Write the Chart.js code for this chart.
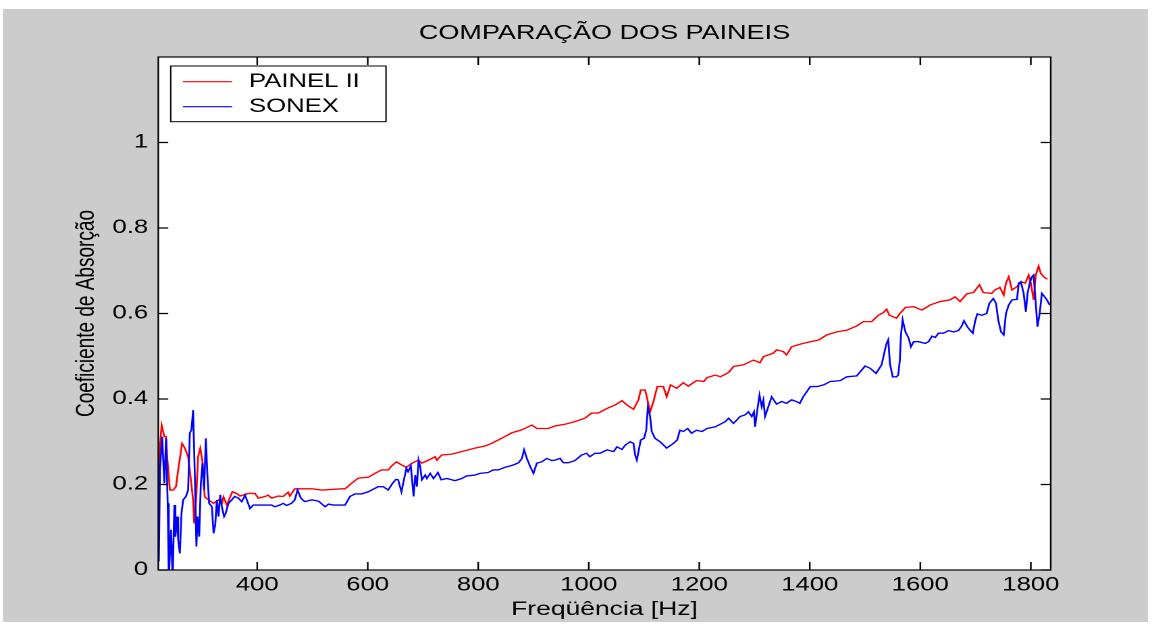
<!DOCTYPE html>
<html>
<head>
<meta charset="utf-8">
<script src="https://cdn.jsdelivr.net/npm/chart.js@4.4.1/dist/chart.umd.min.js"></script>
<style>
  html, body { margin: 0; padding: 0; background: #ffffff; overflow: hidden; }
  /* the figure is drawn on a narrower canvas and widened horizontally */
  #wrap { width: 853px; height: 627px; transform: scaleX(1.35053); transform-origin: 0 0; }
</style>
</head>
<body>
<div id="wrap"><canvas id="c" width="853" height="627"></canvas></div>
<script>
// Absorption coefficient measured for each panel, by frequency (Hz)
const painelFreq = [
  221,227,232,235,237,242,248,253,257,264,269,275,280,284,286,290,293,297,301,305,
  312,321,330,336,339,345,355,363,369,384,396,402,414,420,426,438,447,456,459,468,
  499,517,553,559,571,583,601,613,625,637,643,652,661,670,680,692,698,710,722,725,
  734,752,770,794,812,824,836,848,861,879,897,906,927,939,957,975,993,1005,1017,
  1033,1048,1060,1069,1081,1090,1094,1102,1105,1111,1117,1124,1135,1141,1148,1159,1171,1180,1195,1208,
  1214,1229,1238,1253,1262,1280,1298,1310,1316,1334,1340,1352,1358,1367,1382,1398,1416,1431,1449,1467,
  1485,1497,1512,1524,1533,1539,1544,1557,1563,1573,1588,1603,1618,1636,1654,1663,1672,1684,1696,1707,
  1714,1729,1735,1744,1751,1755,1760,1766,1775,1782,1790,1796,1800,1805,1809,1814,1818,1823,1830
];
const painelCoef = [
  0.234,0.339,0.312,0.312,0.265,0.187,0.187,0.195,0.234,0.296,0.285,0.265,0.211,0.164,0.109,0.179,0.265,0.285,0.253,0.171,
  0.164,0.156,0.164,0.156,0.171,0.152,0.183,0.179,0.173,0.179,0.179,0.168,0.172,0.175,0.168,0.173,0.172,0.182,0.173,0.190,
  0.190,0.187,0.190,0.190,0.203,0.215,0.217,0.226,0.234,0.234,0.243,0.253,0.246,0.240,0.250,0.257,0.250,0.257,0.265,0.257,
  0.269,0.271,0.277,0.285,0.290,0.296,0.304,0.312,0.321,0.328,0.339,0.331,0.331,0.337,0.341,0.347,0.355,0.367,0.367,
  0.378,0.386,0.396,0.386,0.376,0.398,0.421,0.421,0.405,0.370,0.394,0.429,0.429,0.405,0.433,0.425,0.438,0.430,0.443,0.441,
  0.450,0.456,0.452,0.462,0.476,0.480,0.491,0.485,0.499,0.507,0.515,0.511,0.503,0.522,0.528,0.533,0.538,0.550,0.557,0.561,
  0.571,0.581,0.581,0.596,0.602,0.610,0.596,0.589,0.600,0.614,0.616,0.608,0.620,0.628,0.632,0.639,0.628,0.646,0.649,0.667,
  0.649,0.647,0.655,0.661,0.643,0.671,0.686,0.655,0.663,0.674,0.671,0.690,0.671,0.632,0.690,0.711,0.694,0.686,0.680
];
const sonexFreq = [
  221,222,224,228,232,235,238,240,244,247,250,252,255,257,260,263,266,271,275,278,
  281,284,287,290,292,295,298,301,304,307,310,313,318,321,324,327,330,333,336,340,
  343,348,354,359,366,372,378,387,393,408,426,432,441,447,453,462,468,473,479,486,
  499,511,523,529,538,559,568,577,589,601,610,619,628,637,645,651,655,661,666,670,
  673,678,683,686,689,692,695,698,704,707,713,719,727,733,743,758,770,779,794,803,
  818,827,836,848,854,864,873,879,883,888,894,900,906,915,924,933,939,948,954,963,
  975,987,996,1002,1011,
  1020,1033,1045,1051,1060,1066,1075,1081,1084,1087,1090,1094,1100,1104,1107,1111,1114,1120,1129,1141,
  1153,1160,1165,1171,1179,1186,1195,1205,1214,1229,1247,1253,1262,1274,1283,1289,1295,1299,1301,1305,
  1309,1313,1316,1319,1325,1331,1340,1349,1358,1367,1376,1382,1388,1401,1413,1425,1437,1455,1467,1485,
  1500,1509,1520,1530,1536,1539,1542,1545,1550,1557,1560,1563,1565,1568,1573,1579,1583,1588,1597,1609,
  1615,1621,1627,1633,1642,1651,1660,1669,1675,1679,1685,1690,1695,1699,1703,1711,1720,1725,1732,1737,
  1741,1746,1751,1755,1760,1766,1775,1778,1782,1787,1791,1794,1798,1802,1805,1808,1812,1816,1820,1825,
  1829,1834
];
const sonexCoef = [
  0.031,0.020,0.234,0.312,0.203,0.308,0.156,-0.020,0.094,-0.020,0.152,0.078,0.125,0.070,0.039,0.133,0.164,0.172,0.187,0.320,
  0.328,0.374,0.226,0.055,0.125,0.078,0.203,0.250,0.187,0.308,0.218,0.156,0.148,0.086,0.105,0.164,0.125,0.176,0.148,0.125,
  0.133,0.156,0.164,0.172,0.168,0.160,0.175,0.144,0.152,0.152,0.152,0.148,0.152,0.156,0.151,0.156,0.164,0.187,0.168,0.160,
  0.164,0.161,0.148,0.154,0.152,0.152,0.172,0.178,0.178,0.183,0.189,0.195,0.195,0.187,0.203,0.212,0.211,0.183,0.214,0.238,
  0.230,0.243,0.172,0.222,0.195,0.257,0.242,0.211,0.222,0.214,0.226,0.214,0.228,0.211,0.214,0.209,0.214,0.220,0.222,0.226,
  0.228,0.234,0.234,0.240,0.242,0.246,0.251,0.261,0.281,0.261,0.242,0.226,0.250,0.253,0.261,0.256,0.257,0.261,0.251,0.251,
  0.256,0.269,0.273,0.265,0.273,
  0.273,0.281,0.277,0.288,0.282,0.292,0.300,0.296,0.269,0.257,0.277,0.304,0.308,0.327,0.382,0.359,0.324,0.308,0.300,0.285,
  0.296,0.304,0.327,0.324,0.331,0.320,0.327,0.324,0.331,0.335,0.347,0.355,0.343,0.359,0.363,0.370,0.359,0.370,0.335,0.374,
  0.409,0.382,0.398,0.359,0.382,0.405,0.388,0.394,0.390,0.398,0.394,0.390,0.405,0.429,0.429,0.433,0.441,0.443,0.452,0.454,
  0.477,0.472,0.460,0.480,0.515,0.530,0.539,0.483,0.452,0.452,0.456,0.491,0.550,0.585,0.557,0.542,0.522,0.534,0.534,0.530,
  0.534,0.547,0.544,0.554,0.554,0.560,0.557,0.560,0.571,0.583,0.569,0.561,0.554,0.581,0.599,0.596,0.600,0.624,0.635,0.624,
  0.585,0.557,0.550,0.600,0.620,0.632,0.633,0.671,0.674,0.647,0.604,0.647,0.671,0.686,0.690,0.639,0.569,0.600,0.647,0.639,
  0.632,0.620
];

const seriesLabels = ['PAINEL II', 'SONEX'];
const xTickValues = [400, 600, 800, 1000, 1200, 1400, 1600, 1800];
const yTickValues = [0, 0.2, 0.4, 0.6, 0.8, 1];
const chartTitle = 'COMPARAÇÃO DOS PAINEIS';
const xTitle = 'Freqüência [Hz]';
const yTitle = 'Coeficiente de Absorção';

const FONT = "'Liberation Sans', Arial, Helvetica, sans-serif";
const INK = '#000000';
const FIG_GRAY = '#cccccc';
const SERIES_COLORS = ['#ff0000', '#0000ff'];

const toPoints = (xs, ys) => xs.map((x, i) => ({ x: x, y: ys[i] }));

// grey figure background with a white axes area
const figureBackground = {
  id: 'figureBackground',
  beforeDraw(chart) {
    const { ctx, chartArea: a } = chart;
    ctx.save();
    ctx.fillStyle = '#ffffff';
    ctx.fillRect(0, 0, chart.width, chart.height);
    ctx.fillStyle = FIG_GRAY;
    ctx.fillRect(2.2, 9, 847.8, 613);
    ctx.fillStyle = '#ffffff';
    ctx.fillRect(a.left, a.top, a.right - a.left, a.bottom - a.top);
    ctx.restore();
  }
};

// axes box with inward tick marks on all four sides
const axesBox = {
  id: 'axesBox',
  afterDatasetsDraw(chart) {
    const { ctx, chartArea: a, scales } = chart;
    ctx.save();
    ctx.strokeStyle = INK;
    ctx.lineWidth = 1.2;
    ctx.strokeRect(a.left, a.top, a.right - a.left, a.bottom - a.top);
    ctx.beginPath();
    scales.x.ticks.forEach(t => {
      const px = scales.x.getPixelForValue(t.value);
      ctx.moveTo(px, a.bottom); ctx.lineTo(px, a.bottom - 8);
      ctx.moveTo(px, a.top); ctx.lineTo(px, a.top + 8);
    });
    scales.y.ticks.forEach(t => {
      const py = scales.y.getPixelForValue(t.value);
      ctx.moveTo(a.left, py); ctx.lineTo(a.left + 7.4, py);
      ctx.moveTo(a.right, py); ctx.lineTo(a.right - 7.4, py);
    });
    ctx.stroke();
    ctx.restore();
  }
};

// boxed legend in the upper left corner of the axes
const boxedLegend = {
  id: 'boxedLegend',
  afterDraw(chart) {
    const { ctx } = chart;
    const x0 = 126.4, y0 = 66, w = 159.4, h = 55.7;
    ctx.save();
    ctx.fillStyle = '#ffffff';
    ctx.fillRect(x0, y0, w, h);
    ctx.strokeStyle = INK;
    ctx.lineWidth = 1;
    ctx.strokeRect(x0, y0, w, h);
    ctx.font = '19px ' + FONT;
    ctx.textBaseline = 'middle';
    ctx.textAlign = 'left';
    chart.data.datasets.forEach((ds, i) => {
      const y = 81.7 + i * 25;
      ctx.strokeStyle = ds.borderColor;
      ctx.lineWidth = 1.2;
      ctx.beginPath();
      ctx.moveTo(135.5, y);
      ctx.lineTo(171.8, y);
      ctx.stroke();
      ctx.fillStyle = INK;
      ctx.fillText(ds.label, 184.4, y);
    });
    ctx.restore();
  }
};

new Chart(document.getElementById('c'), {
  type: 'line',
  data: {
    datasets: [
      { label: seriesLabels[0], data: toPoints(painelFreq, painelCoef), borderColor: SERIES_COLORS[0],
        borderWidth: 1.35, pointRadius: 0, tension: 0, fill: false, order: 1 },
      { label: seriesLabels[1], data: toPoints(sonexFreq, sonexCoef), borderColor: SERIES_COLORS[1],
        borderWidth: 1.35, pointRadius: 0, tension: 0, fill: false, order: 0 }
    ]
  },
  options: {
    responsive: false,
    devicePixelRatio: 2,
    animation: false,
    events: [],
    layout: { padding: { left: 0, right: 75, top: 0, bottom: 0 } },
    scales: {
      x: {
        type: 'linear',
        min: 221,
        max: 1836,
        grid: { display: false, drawTicks: false },
        border: { display: false },
        afterBuildTicks: s => { s.ticks = xTickValues.map(v => ({ value: v })); },
        afterFit: s => { s.height = 57; },
        ticks: { autoSkip: false, maxRotation: 0, padding: 4, color: INK,
                 font: { family: FONT, size: 19 }, callback: v => String(v) },
        title: { display: true, text: xTitle, color: INK, font: { family: FONT, size: 19.6 },
                 padding: { top: 0, bottom: 5.4 } }
      },
      y: {
        type: 'linear',
        min: 0,
        max: 1.2,
        grid: { display: false, drawTicks: false },
        border: { display: false },
        afterBuildTicks: s => { s.ticks = yTickValues.map(v => ({ value: v })); },
        afterFit: s => { s.width = 117.2; },
        ticks: { autoSkip: false, padding: 7.5, color: INK,
                 font: { family: FONT, size: 19 }, callback: v => String(Math.round(v * 10) / 10) },
        title: { display: true, text: yTitle, color: INK, font: { family: FONT, size: 19 },
                 padding: { top: 53, bottom: 0 } }
      }
    },
    plugins: {
      legend: { display: false },
      tooltip: { enabled: false },
      title: {
        display: true, text: chartTitle, fullSize: false, color: INK,
        font: { family: FONT, size: 20, weight: 'normal' },
        padding: { top: 21.5, bottom: 11.5 }
      }
    }
  },
  plugins: [figureBackground, axesBox, boxedLegend]
});
</script>
</body>
</html>
